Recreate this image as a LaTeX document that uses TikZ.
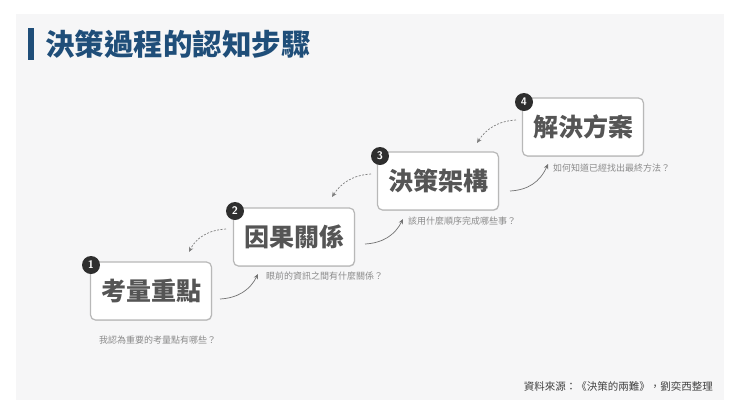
\documentclass[tikz,border=0pt]{standalone}
\usepackage{fontspec}
\newfontfamily\cjk{Noto Sans CJK TC}
\usetikzlibrary{shadows,arrows.meta}
\definecolor{titleblue}{HTML}{1F4E79}
\definecolor{panel}{HTML}{F6F6F7}
\definecolor{boxtext}{HTML}{555555}
\definecolor{qtext}{HTML}{8A8A8A}
\tikzset{
  stepbox/.style={draw=black!28,line width=1.2pt,fill=white,rounded corners=5pt,minimum width=121pt,minimum height=58pt,drop shadow={shadow xshift=0.5pt,shadow yshift=-0.8pt,opacity=0.25},font=\cjk\bfseries\fontsize{25}{28}\selectfont,text=boxtext},
  badge/.style={circle,fill=black!82,text=white,minimum size=18pt,inner sep=0pt,font=\sffamily\bfseries\fontsize{11}{11}\selectfont},
  qlab/.style={anchor=west,inner sep=0pt,text=qtext,font=\cjk\fontsize{9}{11}\selectfont},
  fwd/.style={draw=black!55,line width=0.7pt,-{Stealth[length=5pt,width=4.5pt]}},
  bwd/.style={draw=black!50,line width=0.7pt,dashed,dash pattern=on 2pt off 1.5pt,-{Stealth[length=5pt,width=4.5pt]}}
}
\begin{document}
\begin{tikzpicture}[x=1pt,y=-1pt]
\useasboundingbox (0,0) rectangle (740,416);
\fill[white] (0,0) rectangle (740,416);
\fill[panel] (16,14) rectangle (724,400);
\fill[titleblue] (28,28) rectangle (33.5,60);
\node[anchor=west,inner sep=0pt,text=titleblue,font=\cjk\bfseries\fontsize{29.5}{32}\selectfont] (title) at (45,44) {決策過程的認知步驟};
\node[stepbox] (b1) at (151,291) {考量重點};
\node[stepbox] (b2) at (294,237) {因果關係};
\node[stepbox] (b3) at (438,181) {決策架構};
\node[stepbox] (b4) at (583,127) {解決方案};
\node[badge] (n1) at (91,265) {1};
\node[badge] (n2) at (235,211) {2};
\node[badge] (n3) at (380,156) {3};
\node[badge] (n4) at (524,102) {4};
\node[qlab] (q1) at (99,340) {我認為重要的考量點有哪些？};
\node[qlab] (q2) at (266,276) {眼前的資訊之間有什麼關係？};
\node[qlab] (q3) at (408,221) {該用什麼順序完成哪些事？};
\node[qlab] (q4) at (553,168) {如何知道已經找出最終方法？};
\coordinate (s1) at (220,299); \coordinate (e1) at (258,274);
\coordinate (s2) at (365,244); \coordinate (e2) at (403,219);
\coordinate (s3) at (510,191); \coordinate (e3) at (548,164);
\draw[fwd] (s1) .. controls (238,298) and (250,290) .. (e1);
\draw[fwd] (s2) .. controls (383,243) and (395,235) .. (e2);
\draw[fwd] (s3) .. controls (528,190) and (540,182) .. (e3);
\coordinate (d1) at (226,229); \coordinate (f1) at (189,252);
\coordinate (d2) at (371,174); \coordinate (f2) at (332,197);
\coordinate (d3) at (516,120); \coordinate (f3) at (477,143);
\draw[bwd] (d1) .. controls (208,230) and (196,238) .. (f1);
\draw[bwd] (d2) .. controls (353,175) and (341,183) .. (f2);
\draw[bwd] (d3) .. controls (498,121) and (486,129) .. (f3);
\node[anchor=east,inner sep=0pt,text=black!75,font=\cjk\fontsize{10.5}{12}\selectfont] (src) at (713,386) {資料來源：《決策的兩難》，劉奕西整理};
\end{tikzpicture}
\end{document}
